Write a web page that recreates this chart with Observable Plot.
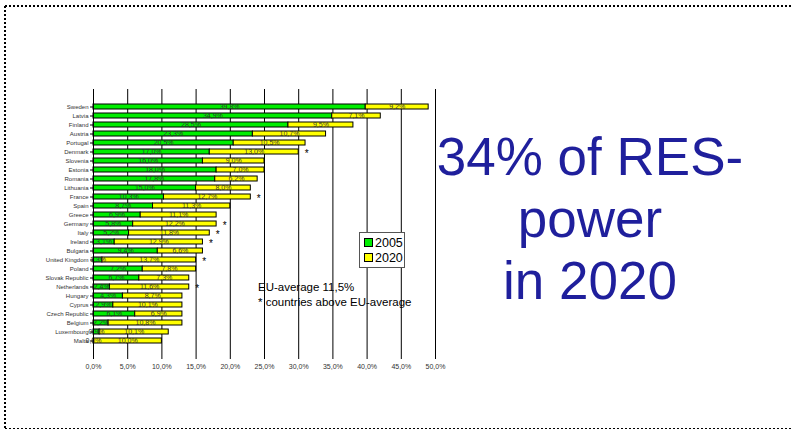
<!DOCTYPE html>
<html>
<head>
<meta charset="utf-8">
<script src="https://cdn.jsdelivr.net/npm/d3@7"></script>
<script src="https://cdn.jsdelivr.net/npm/@observablehq/plot@0.6"></script>
<style>
  html, body { margin: 0; padding: 0; background: #fff; font-family: "Liberation Sans", Arial, sans-serif; overflow: hidden; }
  #slide { position: relative; width: 791px; height: 430px; overflow: hidden; background: #fff; }
  #slide > svg { position: absolute; left: 0; top: 0; }
  #legend { position: absolute; left: 359px; top: 232px; width: 44px; height: 34px;
            border: 1px solid #555; background: #fff; font-size: 12.5px; color: #000; }
  #legend div { position: absolute; left: 4px; height: 14px; line-height: 14px; white-space: nowrap; }
  #legend span.sw { display: inline-block; width: 7px; height: 7px; border: 1px solid #000;
                    margin-right: 2px; vertical-align: 0px; }
  #note { position: absolute; left: 258px; top: 280px; font-size: 11.5px; line-height: 15px; color: #000; white-space: nowrap; }
  #headline { position: absolute; left: 400px; top: 126px; width: 380px; text-align: center;
              font-size: 53px; line-height: 62px; color: #1f1f9c; }
</style>
</head>
<body>
<div id="slide">
  <svg id="border" width="791" height="430">
    <line x1="5" y1="6" x2="791" y2="6" stroke="#000" stroke-width="2" stroke-dasharray="2 2"/>
    <line x1="5" y1="6" x2="5" y2="429" stroke="#000" stroke-width="2" stroke-dasharray="2 2"/>
    <line x1="5" y1="428.5" x2="791" y2="428.5" stroke="#000" stroke-width="1" stroke-dasharray="2 2"/>
  </svg>
  <div id="headline">34% of RES-<br>power<br>in 2020</div>
  <div id="note">EU-average 11,5%<br>* countries above EU-average</div>
  <div id="legend"></div>
</div>
<script>
// Renewable share of energy: 2005 level and the increase needed for the 2020 target
const countries = ["Sweden", "Latvia", "Finland", "Austria", "Portugal", "Denmark", "Slovenia",
  "Estonia", "Romania", "Lithuania", "France", "Spain", "Greece", "Germany", "Italy", "Ireland",
  "Bulgaria", "United Kingdom", "Poland", "Slovak Republic", "Netherlands", "Hungary", "Cyprus",
  "Czech Republic", "Belgium", "Luxembourg", "Malta"];
const share2005 = [39.8, 34.9, 28.5, 23.3, 20.5, 17.0, 16.0, 18.0, 17.8, 15.0, 10.3, 8.7, 6.9,
  5.8, 5.2, 3.1, 9.4, 1.3, 7.2, 6.7, 2.4, 4.3, 2.9, 6.1, 2.2, 0.9, 0.0];
const increase2020 = [9.2, 7.1, 9.5, 10.7, 10.5, 13.0, 9.0, 7.0, 6.2, 8.0, 12.7, 11.3, 11.1,
  12.2, 11.8, 12.9, 6.6, 13.7, 7.8, 7.3, 11.6, 8.7, 10.1, 6.9, 10.8, 10.1, 10.0];
const aboveAverage = ["Denmark", "France", "Germany", "Italy", "Ireland", "United Kingdom", "Netherlands"];
const seriesNames = ["2005", "2020"];
const seriesColors = ["#00ee00", "#ffff00"];
const xTicks = [0, 5, 10, 15, 20, 25, 30, 35, 40, 45, 50];

const pct = v => v.toFixed(1).replace(".", ",") + "%";

// one row per stacked segment
const rows = countries.flatMap((c, i) => [
  {country: c, series: "2005", x1: 0, x2: share2005[i], value: share2005[i]},
  {country: c, series: "2020", x1: share2005[i], x2: share2005[i] + increase2020[i], value: increase2020[i]}
]);
const stars = countries
  .map((c, i) => ({country: c, total: share2005[i] + increase2020[i]}))
  .filter(d => aboveAverage.includes(d.country));

const chart = Plot.plot({
  width: 791,
  height: 430,
  marginLeft: 93,
  marginRight: 356,
  marginTop: 89,
  marginBottom: 71,
  style: {fontFamily: "'Liberation Sans', Arial, sans-serif", background: "transparent", overflow: "visible"},
  x: {domain: [0, 50]},
  y: {domain: countries, padding: 0.4},
  color: {domain: seriesNames, range: seriesColors},
  marks: [
    Plot.gridX({ticks: xTicks, stroke: "#000", strokeOpacity: 1, strokeWidth: 1}),
    Plot.barX(rows, {y: "country", x1: "x1", x2: "x2", fill: "series", stroke: "#000", strokeWidth: 1}),
    Plot.text(rows, {y: "country", x: d => (d.x1 + d.x2) / 2, text: d => pct(d.value),
      fontSize: 7, fill: "#333"}),
    Plot.text(stars, {y: "country", x: "total", text: () => "*", dx: 8, dy: 2, fontSize: 10, fill: "#000"}),
    Plot.axisX({ticks: xTicks, tickFormat: pct, tickSize: 0, tickPadding: 5, fontSize: 7, fill: "#333", label: null}),
    Plot.axisY({tickSize: 3, tickPadding: 2, fontSize: 6, fill: "#333", label: null}),
    Plot.ruleX([0], {stroke: "#000"})
  ]
});
document.getElementById("border").after(chart);

// legend entries
const legend = document.getElementById("legend");
seriesNames.forEach((name, i) => {
  const row = document.createElement("div");
  row.style.top = (3 + i * 15) + "px";
  row.innerHTML = `<span class="sw" style="background:${seriesColors[i]}"></span>${name}`;
  legend.appendChild(row);
});
</script>
</body>
</html>
